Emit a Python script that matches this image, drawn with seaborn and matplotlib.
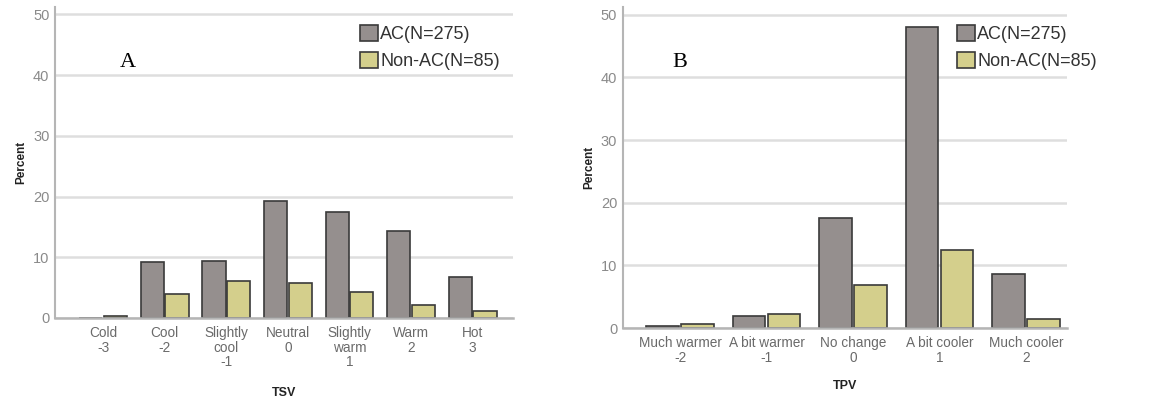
import pandas as pd
import matplotlib.pyplot as plt
import seaborn as sns

# data (percent of all 360 respondents)
tsv_labels = ["Cold\n-3", "Cool\n-2", "Slightly\ncool\n-1", "Neutral\n0",
              "Slightly\nwarm\n1", "Warm\n2", "Hot\n3"]
tsv_ac = [0.0, 9.2, 9.4, 19.2, 17.5, 14.4, 6.7]
tsv_nonac = [0.3, 3.9, 6.1, 5.8, 4.2, 2.2, 1.1]

tpv_labels = ["Much warmer\n-2", "A bit warmer\n-1", "No change\n0",
              "A bit cooler\n1", "Much cooler\n2"]
tpv_ac = [0.3, 1.9, 17.5, 48.1, 8.6]
tpv_nonac = [0.6, 2.2, 6.9, 12.5, 1.4]

groups = ["AC(N=275)", "Non-AC(N=85)"]
colors = ["#958f8e", "#d4cf8c"]


def long_df(labels, ac, nonac):
    return pd.DataFrame({
        "cat": labels * 2,
        "pct": ac + nonac,
        "grp": [groups[0]] * len(labels) + [groups[1]] * len(labels),
    })


sns.set_style("white")
plt.rcParams["font.family"] = ["Liberation Sans", "DejaVu Sans"]

fig = plt.figure(figsize=(11.62, 4.01), dpi=100)
ax1 = fig.add_axes([0.0473, 0.207, 0.394, 0.7755])
ax2 = fig.add_axes([0.536, 0.182, 0.382, 0.800])

panels = [
    (ax1, long_df(tsv_labels, tsv_ac, tsv_nonac), "TSV", "A", (-0.78, 6.65), 0.310, 0.110, 13),
    (ax2, long_df(tpv_labels, tpv_ac, tpv_nonac), "TPV", "B", (-0.66, 4.47), 0.8236, 0.585, 11),
]

for ax, df, xlab, letter, xl, legx, letx, xpad in panels:
    sns.barplot(data=df, x="cat", y="pct", hue="grp", palette=colors, ax=ax,
                width=0.8, gap=0.06, edgecolor="#3a3a3a", linewidth=1.2, saturation=1)
    ax.set_xlim(*xl)
    ax.set_ylim(0, 51.2)
    ax.set_yticks([0, 10, 20, 30, 40, 50])
    ax.yaxis.grid(True, color="#dedede", linewidth=1.8)
    ax.set_axisbelow(True)
    for s in ["top", "right"]:
        ax.spines[s].set_visible(False)
    ax.spines["left"].set_color("#b5b5b5")
    ax.spines["bottom"].set_color("#b5b5b5")
    ax.spines["left"].set_linewidth(1.5)
    ax.spines["bottom"].set_linewidth(1.8)
    ax.tick_params(axis="both", length=0, colors="#6a6a6a", labelsize=9.8, pad=6)
    ax.tick_params(axis="y", labelsize=10.5, colors="#8a8a8a", pad=4)
    for t in ax.get_xticklabels():
        t.set_linespacing(1.05)
    ax.set_xlabel(xlab, fontsize=9, fontweight="bold", color="#222222", labelpad=xpad)
    ax.set_ylabel("Percent", fontsize=8.5, fontweight="bold", color="#222222", labelpad=4)
    h, l = ax.get_legend_handles_labels()
    ax.legend(h, l, loc="upper left", bbox_to_anchor=(legx, 0.938),
              bbox_transform=fig.transFigure, frameon=False, fontsize=13,
              handlelength=1.0, handleheight=1.0, handletextpad=0.12,
              labelspacing=0.5, borderpad=0, borderaxespad=0, labelcolor="#333333")
    fig.text(letx, 0.845, letter, family="Liberation Serif", fontsize=16, color="black",
             ha="center", va="center")

fig.savefig("out.png", dpi=100)
